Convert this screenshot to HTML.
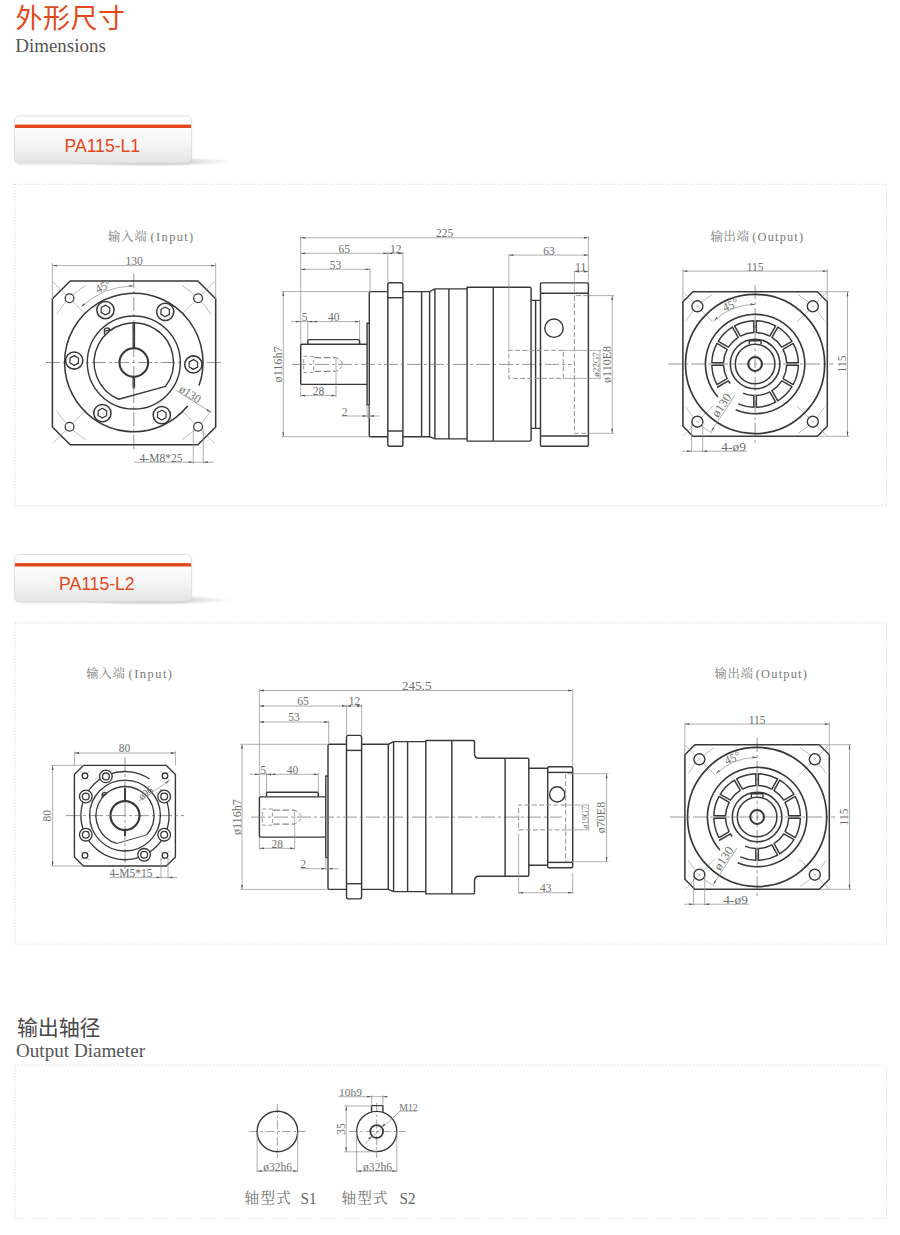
<!DOCTYPE html>
<html><head><meta charset="utf-8"><title>PA115 Dimensions</title>
<style>
html,body{margin:0;padding:0;background:#fff;}
body{width:900px;height:1235px;overflow:hidden;font-family:"Liberation Sans",sans-serif;}
svg{display:block;position:absolute;left:0;top:0;}
text{white-space:pre;}
</style></head><body>
<svg width="900" height="1235" viewBox="0 0 900 1235">
<defs>
<linearGradient id="tabg" x1="0" y1="0" x2="0" y2="1"><stop offset="0" stop-color="#ffffff"/><stop offset="0.55" stop-color="#f7f7f7"/><stop offset="1" stop-color="#e4e4e4"/></linearGradient>
<radialGradient id="shd" cx="0.5" cy="0.5" r="0.5"><stop offset="0" stop-color="#000" stop-opacity="0.28"/><stop offset="1" stop-color="#000" stop-opacity="0"/></radialGradient>
<filter id="blur1" x="-20%" y="-50%" width="140%" height="200%"><feGaussianBlur stdDeviation="1.6"/></filter>
</defs>
<text x="15.5" y="28.2" font-family="'Liberation Sans','Noto Sans CJK SC',sans-serif" font-size="27" fill="#e2491b" textLength="109.5" lengthAdjust="spacing">外形尺寸</text>
<text x="15.3" y="51.6" font-family="Liberation Serif" font-size="18" fill="#555" textLength="90.5" lengthAdjust="spacingAndGlyphs">Dimensions</text>
<text x="17" y="1035" font-family="'Liberation Sans','Noto Sans CJK SC',sans-serif" font-size="21" fill="#484848" textLength="83.5" lengthAdjust="spacing">输出轴径</text>
<text x="16" y="1057.3" font-family="Liberation Serif" font-size="18" fill="#555" textLength="129" lengthAdjust="spacingAndGlyphs">Output Diameter</text>
<ellipse cx="150" cy="161.5" rx="82" ry="5" fill="url(#shd)"/>
<rect x="15" y="117" width="176" height="47" rx="5" fill="#999" opacity="0.35" filter="url(#blur1)"/>
<rect x="14.5" y="116" width="177" height="47" rx="5" fill="url(#tabg)" stroke="#dcdcdc" stroke-width="0.8"/>
<rect x="15" y="124.6" width="176" height="3.4" fill="#e2491b"/>
<text x="102.3" y="151.6" font-family="Liberation Sans" font-size="17.6" fill="#e2491b" text-anchor="middle">PA115-L1</text>
<ellipse cx="150" cy="600" rx="82" ry="5" fill="url(#shd)"/>
<rect x="15" y="555.5" width="176" height="47" rx="5" fill="#999" opacity="0.35" filter="url(#blur1)"/>
<rect x="14.5" y="554.5" width="177" height="47" rx="5" fill="url(#tabg)" stroke="#dcdcdc" stroke-width="0.8"/>
<rect x="15" y="563.1" width="176" height="3.4" fill="#e2491b"/>
<text x="96.8" y="590.1" font-family="Liberation Sans" font-size="17.6" fill="#e2491b" text-anchor="middle">PA115-L2</text>
<rect x="15" y="184.3" width="871.5" height="321.5" rx="0" stroke="#d2d2d2" stroke-width="1" fill="none" stroke-dasharray="1 2"/>
<rect x="15" y="622.7" width="871.5" height="321.5" rx="0" stroke="#d2d2d2" stroke-width="1" fill="none" stroke-dasharray="1 2"/>
<rect x="15" y="1065.3" width="871.5" height="153" rx="0" stroke="#d2d2d2" stroke-width="1" fill="none" stroke-dasharray="1 2"/>
<text x="108" y="240.6" font-family="'Liberation Serif','Noto Serif CJK SC',serif" font-size="12.4" fill="#7c7c7c" textLength="38.6" lengthAdjust="spacing">输入端</text>
<text x="150.6" y="240.6" font-family="Liberation Serif" font-size="12.4" fill="#7a7a7a" textLength="42.6" lengthAdjust="spacing">(Input)</text>
<text x="710.4" y="240.6" font-family="'Liberation Serif','Noto Serif CJK SC',serif" font-size="12.4" fill="#7c7c7c" textLength="38.6" lengthAdjust="spacing">输出端</text>
<text x="752.3" y="240.6" font-family="Liberation Serif" font-size="12.4" fill="#7a7a7a" textLength="50.8" lengthAdjust="spacing">(Output)</text>
<text x="86.2" y="677.8" font-family="'Liberation Serif','Noto Serif CJK SC',serif" font-size="12.4" fill="#7c7c7c" textLength="38.6" lengthAdjust="spacing">输入端</text>
<text x="128.5" y="677.8" font-family="Liberation Serif" font-size="12.4" fill="#7a7a7a" textLength="43.5" lengthAdjust="spacing">(Input)</text>
<text x="714.4" y="677.8" font-family="'Liberation Serif','Noto Serif CJK SC',serif" font-size="12.4" fill="#7c7c7c" textLength="38.6" lengthAdjust="spacing">输出端</text>
<text x="755.8" y="677.8" font-family="Liberation Serif" font-size="12.4" fill="#7a7a7a" textLength="51" lengthAdjust="spacing">(Output)</text>
<line x1="46" y1="362.5" x2="222" y2="362.5" stroke="#7c7c7c" stroke-width="0.8" stroke-dasharray="14 3 3 3"/>
<line x1="133.8" y1="274" x2="133.8" y2="451" stroke="#7c7c7c" stroke-width="0.8" stroke-dasharray="14 3 3 3"/>
<path d="M70.2 281L197.9 281L215.7 298.8L215.7 427L197.9 444.8L70.2 444.8L52.4 427L52.4 298.8Z" stroke="#383838" stroke-width="1.54" fill="none" stroke-linejoin="round" />
<line x1="183.25" y1="411.95" x2="214.36" y2="443.06" stroke="#949494" stroke-width="0.62"/>
<path d="M210.92 410.69A90.93 90.93 0 0 1 181.99 439.62" stroke="#949494" stroke-width="0.62" fill="none" stroke-linejoin="round" />
<circle cx="198.1" cy="426.8" r="4.4" stroke="#383838" stroke-width="1.26" fill="#fff"/>
<line x1="84.35" y1="411.95" x2="53.24" y2="443.06" stroke="#949494" stroke-width="0.62"/>
<path d="M85.61 439.62A90.93 90.93 0 0 1 56.68 410.69" stroke="#949494" stroke-width="0.62" fill="none" stroke-linejoin="round" />
<circle cx="69.5" cy="426.8" r="4.4" stroke="#383838" stroke-width="1.26" fill="#fff"/>
<line x1="84.35" y1="313.05" x2="53.24" y2="281.94" stroke="#949494" stroke-width="0.62"/>
<path d="M56.68 314.31A90.93 90.93 0 0 1 85.61 285.38" stroke="#949494" stroke-width="0.62" fill="none" stroke-linejoin="round" />
<circle cx="69.5" cy="298.2" r="4.4" stroke="#383838" stroke-width="1.26" fill="#fff"/>
<line x1="183.25" y1="313.05" x2="214.36" y2="281.94" stroke="#949494" stroke-width="0.62"/>
<path d="M181.99 285.38A90.93 90.93 0 0 1 210.92 314.31" stroke="#949494" stroke-width="0.62" fill="none" stroke-linejoin="round" />
<circle cx="198.1" cy="298.2" r="4.4" stroke="#383838" stroke-width="1.26" fill="#fff"/>
<path d="M187.58 406.05A69.2 69.2 0 1 1 199.03 385.6" stroke="#383838" stroke-width="1.54" fill="none" stroke-linejoin="round" />
<circle cx="133.8" cy="362.5" r="46.5" stroke="#383838" stroke-width="1.4" fill="none"/>
<path d="M118.76 399.24A39.7 39.7 0 1 1 165.49 386.42Z" stroke="#383838" stroke-width="1.4" fill="none" stroke-linejoin="round" />
<path d="M104.5 334.6v-3.4a2.7 2.2 0 0 1 5.4 -1.6l-4.6 1.6" stroke="#383838" stroke-width="1.4" fill="none" stroke-linejoin="round" />
<circle cx="133.8" cy="362.5" r="14.3" stroke="#383838" stroke-width="2.1" fill="none"/>
<line x1="133.1" y1="323.2" x2="133.1" y2="348.5" stroke="#383838" stroke-width="1.26"/>
<line x1="134.5" y1="323.2" x2="134.5" y2="348.5" stroke="#383838" stroke-width="1.26"/>
<line x1="133.1" y1="376.5" x2="133.1" y2="387.5" stroke="#383838" stroke-width="1.26"/>
<line x1="134.5" y1="376.5" x2="134.5" y2="387.5" stroke="#383838" stroke-width="1.26"/>
<path d="M133.1 387.5a0.7 0.7 0 0 0 1.4 0" stroke="#383838" stroke-width="1.26" fill="none" stroke-linejoin="round" />
<circle cx="193.37" cy="364.48" r="8.6" stroke="#383838" stroke-width="1.54" fill="#fff"/>
<path d="M197.53 367.07L193.2 369.37L189.04 366.78L189.21 361.89L193.53 359.58L197.69 362.17Z" stroke="#383838" stroke-width="1.26" fill="none" stroke-linejoin="round" />
<circle cx="161.78" cy="415.12" r="8.6" stroke="#383838" stroke-width="1.54" fill="#fff"/>
<path d="M161.61 420.02L157.45 417.42L157.63 412.53L161.95 410.23L166.11 412.82L165.94 417.72Z" stroke="#383838" stroke-width="1.26" fill="none" stroke-linejoin="round" />
<circle cx="102.39" cy="413.15" r="8.6" stroke="#383838" stroke-width="1.54" fill="#fff"/>
<path d="M98.08 415.47L98.23 410.57L102.55 408.26L106.71 410.84L106.56 415.74L102.24 418.05Z" stroke="#383838" stroke-width="1.26" fill="none" stroke-linejoin="round" />
<circle cx="74.23" cy="360.52" r="8.6" stroke="#383838" stroke-width="1.54" fill="#fff"/>
<path d="M70.07 357.93L74.4 355.63L78.56 358.22L78.39 363.11L74.07 365.42L69.91 362.83Z" stroke="#383838" stroke-width="1.26" fill="none" stroke-linejoin="round" />
<circle cx="105.45" cy="310.07" r="8.6" stroke="#383838" stroke-width="1.54" fill="#fff"/>
<path d="M105.59 305.17L109.76 307.74L109.63 312.64L105.32 314.97L101.14 312.4L101.28 307.51Z" stroke="#383838" stroke-width="1.26" fill="none" stroke-linejoin="round" />
<circle cx="165.21" cy="311.85" r="8.6" stroke="#383838" stroke-width="1.54" fill="#fff"/>
<path d="M169.52 309.53L169.37 314.43L165.05 316.74L160.89 314.16L161.04 309.26L165.36 306.95Z" stroke="#383838" stroke-width="1.26" fill="none" stroke-linejoin="round" />
<line x1="52.4" y1="263" x2="52.4" y2="299" stroke="#949494" stroke-width="0.75"/>
<line x1="215.7" y1="263" x2="215.7" y2="299" stroke="#949494" stroke-width="0.75"/>
<line x1="52.4" y1="265.6" x2="215.7" y2="265.6" stroke="#949494" stroke-width="0.75"/>
<path d="M52.4 265.6L56.9 264.7L56.9 266.5Z" fill="#555"/>
<path d="M215.7 265.6L211.2 266.5L211.2 264.7Z" fill="#555"/>
<text transform="translate(134.2 264.3) translate(0 0.7) scale(0.93 1)" font-family="Liberation Serif" font-size="12.4" fill="#707070" text-anchor="middle">130</text>
<path d="M81.14 307.01A76.5 76.5 0 0 1 133.8 286" stroke="#949494" stroke-width="0.75" fill="none" stroke-linejoin="round" />
<path d="M81.14 307.01L83.65 303.17L84.94 304.43Z" fill="#555"/>
<path d="M133.8 286L129.27 286.74L129.33 284.94Z" fill="#555"/>
<text transform="translate(104.64 289.36) rotate(-26) translate(0 0.7) scale(0.93 1)" font-family="Liberation Serif" font-size="12.4" fill="#707070" text-anchor="middle">45°</text>
<line x1="176.2" y1="390.3" x2="211.2" y2="412.6" stroke="#949494" stroke-width="0.75"/>
<path d="M210.8 412.3L206.52 410.64L207.49 409.12Z" fill="#555"/>
<text transform="translate(188.2 396.9) rotate(33) translate(0 0.7) scale(0.93 1)" font-family="Liberation Serif" font-size="12.4" fill="#707070" text-anchor="middle">ø130</text>
<line x1="193.3" y1="429" x2="193.3" y2="463.4" stroke="#949494" stroke-width="0.75"/>
<line x1="203.3" y1="429" x2="203.3" y2="463.4" stroke="#949494" stroke-width="0.75"/>
<line x1="134.4" y1="462.2" x2="213.5" y2="462.2" stroke="#949494" stroke-width="0.75"/>
<path d="M193.3 462.2L188.8 463.1L188.8 461.3Z" fill="#555"/>
<path d="M203.3 462.2L207.8 461.3L207.8 463.1Z" fill="#555"/>
<text transform="translate(161 460.8) translate(0 0.7) scale(0.93 1)" font-family="Liberation Serif" font-size="12.4" fill="#707070" text-anchor="middle">4-M8*25</text>
<line x1="668.1" y1="364" x2="833.1" y2="364" stroke="#7c7c7c" stroke-width="0.8" stroke-dasharray="14 3 3 3"/>
<line x1="755.1" y1="285" x2="755.1" y2="444" stroke="#7c7c7c" stroke-width="0.8" stroke-dasharray="14 3 3 3"/>
<path d="M692.9 291.7L817.3 291.7L827.3 301.7L827.3 426.3L817.3 436.3L692.9 436.3L682.9 426.3L682.9 301.7Z" stroke="#383838" stroke-width="1.54" fill="none" stroke-linejoin="round" />
<line x1="797.24" y1="406.14" x2="826.94" y2="435.84" stroke="#949494" stroke-width="0.62"/>
<path d="M824.3 407.24A81.6 81.6 0 0 1 798.34 433.2" stroke="#949494" stroke-width="0.62" fill="none" stroke-linejoin="round" />
<circle cx="812.8" cy="421.7" r="5.5" stroke="#383838" stroke-width="1.4" fill="#fff"/>
<line x1="811.5" y1="420.4" x2="814.1" y2="423" stroke="#949494" stroke-width="0.5"/>
<line x1="811.5" y1="423" x2="814.1" y2="420.4" stroke="#949494" stroke-width="0.5"/>
<line x1="712.96" y1="406.14" x2="683.26" y2="435.84" stroke="#949494" stroke-width="0.62"/>
<path d="M711.86 433.2A81.6 81.6 0 0 1 685.9 407.24" stroke="#949494" stroke-width="0.62" fill="none" stroke-linejoin="round" />
<circle cx="697.4" cy="421.7" r="5.5" stroke="#383838" stroke-width="1.4" fill="#fff"/>
<line x1="696.1" y1="420.4" x2="698.7" y2="423" stroke="#949494" stroke-width="0.5"/>
<line x1="696.1" y1="423" x2="698.7" y2="420.4" stroke="#949494" stroke-width="0.5"/>
<line x1="712.96" y1="321.86" x2="683.26" y2="292.16" stroke="#949494" stroke-width="0.62"/>
<path d="M685.9 320.76A81.6 81.6 0 0 1 711.86 294.8" stroke="#949494" stroke-width="0.62" fill="none" stroke-linejoin="round" />
<circle cx="697.4" cy="306.3" r="5.5" stroke="#383838" stroke-width="1.4" fill="#fff"/>
<line x1="696.1" y1="305" x2="698.7" y2="307.6" stroke="#949494" stroke-width="0.5"/>
<line x1="696.1" y1="307.6" x2="698.7" y2="305" stroke="#949494" stroke-width="0.5"/>
<line x1="797.24" y1="321.86" x2="826.94" y2="292.16" stroke="#949494" stroke-width="0.62"/>
<path d="M798.34 294.8A81.6 81.6 0 0 1 824.3 320.76" stroke="#949494" stroke-width="0.62" fill="none" stroke-linejoin="round" />
<circle cx="812.8" cy="306.3" r="5.5" stroke="#383838" stroke-width="1.4" fill="#fff"/>
<line x1="811.5" y1="305" x2="814.1" y2="307.6" stroke="#949494" stroke-width="0.5"/>
<line x1="811.5" y1="307.6" x2="814.1" y2="305" stroke="#949494" stroke-width="0.5"/>
<circle cx="755.1" cy="364" r="69.6" stroke="#383838" stroke-width="1.68" fill="none"/>
<path d="M717.88 396.93A49.7 49.7 0 1 1 735.68 409.75" stroke="#383838" stroke-width="1.61" fill="none" stroke-linejoin="round" />
<path d="M786.68 365.25L798.38 365.25A43.3 43.3 0 0 1 793.21 384.56L783.07 378.71A31.6 31.6 0 0 0 786.68 365.25Z" stroke="#383838" stroke-width="1.47" fill="none" stroke-linejoin="round" />
<path d="M781.82 380.87L791.96 386.72A43.3 43.3 0 0 1 777.82 400.86L771.97 390.72A31.6 31.6 0 0 0 781.82 380.87Z" stroke="#383838" stroke-width="1.47" fill="none" stroke-linejoin="round" />
<path d="M769.81 391.97L775.66 402.11A43.3 43.3 0 0 1 756.35 407.28L756.35 395.58A31.6 31.6 0 0 0 769.81 391.97Z" stroke="#383838" stroke-width="1.47" fill="none" stroke-linejoin="round" />
<path d="M727.13 378.71L716.99 384.56A43.3 43.3 0 0 1 711.82 365.25L723.52 365.25A31.6 31.6 0 0 0 727.13 378.71Z" stroke="#383838" stroke-width="1.47" fill="none" stroke-linejoin="round" />
<path d="M723.52 362.75L711.82 362.75A43.3 43.3 0 0 1 716.99 343.44L727.13 349.29A31.6 31.6 0 0 0 723.52 362.75Z" stroke="#383838" stroke-width="1.47" fill="none" stroke-linejoin="round" />
<path d="M728.38 347.13L718.24 341.28A43.3 43.3 0 0 1 732.38 327.14L738.23 337.28A31.6 31.6 0 0 0 728.38 347.13Z" stroke="#383838" stroke-width="1.47" fill="none" stroke-linejoin="round" />
<path d="M740.39 336.03L734.54 325.89A43.3 43.3 0 0 1 753.85 320.72L753.85 332.42A31.6 31.6 0 0 0 740.39 336.03Z" stroke="#383838" stroke-width="1.47" fill="none" stroke-linejoin="round" />
<path d="M756.35 332.42L756.35 320.72A43.3 43.3 0 0 1 775.66 325.89L769.81 336.03A31.6 31.6 0 0 0 756.35 332.42Z" stroke="#383838" stroke-width="1.47" fill="none" stroke-linejoin="round" />
<path d="M771.97 337.28L777.82 327.14A43.3 43.3 0 0 1 791.96 341.28L781.82 347.13A31.6 31.6 0 0 0 771.97 337.28Z" stroke="#383838" stroke-width="1.47" fill="none" stroke-linejoin="round" />
<path d="M783.07 349.29L793.21 343.44A43.3 43.3 0 0 1 798.38 362.75L786.68 362.75A31.6 31.6 0 0 0 783.07 349.29Z" stroke="#383838" stroke-width="1.47" fill="none" stroke-linejoin="round" />
<path d="M743.01 393.19A31.6 31.6 0 0 0 753.85 395.58L753.85 407.28A43.3 43.3 0 0 1 738.18 403.86" stroke="#383838" stroke-width="1.47" fill="none" stroke-linejoin="round" />
<path d="M730.29 383.57A31.6 31.6 0 0 1 728.38 380.87L716.96 387.51" stroke="#383838" stroke-width="1.47" fill="none" stroke-linejoin="round" />
<circle cx="755.1" cy="364" r="24.8" stroke="#383838" stroke-width="1.54" fill="none"/>
<circle cx="755.1" cy="364" r="19.8" stroke="#383838" stroke-width="1.54" fill="none"/>
<path d="M749.3 344.4V340.7H761V344.4" stroke="#383838" stroke-width="1.4" fill="none" stroke-linejoin="round" />
<circle cx="755.1" cy="364" r="6.9" stroke="#383838" stroke-width="2.03" fill="none"/>
<line x1="682.9" y1="269.4" x2="682.9" y2="301.7" stroke="#949494" stroke-width="0.75"/>
<line x1="827.3" y1="269.4" x2="827.3" y2="301.7" stroke="#949494" stroke-width="0.75"/>
<line x1="682.9" y1="271.1" x2="827.3" y2="271.1" stroke="#949494" stroke-width="0.75"/>
<path d="M682.9 271.1L687.4 270.2L687.4 272Z" fill="#555"/>
<path d="M827.3 271.1L822.8 272L822.8 270.2Z" fill="#555"/>
<text transform="translate(755.1 269.8) translate(0 0.7) scale(0.93 1)" font-family="Liberation Serif" font-size="12.4" fill="#707070" text-anchor="middle">115</text>
<line x1="818.3" y1="291.7" x2="849.3" y2="291.7" stroke="#949494" stroke-width="0.75"/>
<line x1="818.3" y1="436.3" x2="849.3" y2="436.3" stroke="#949494" stroke-width="0.75"/>
<line x1="847.5" y1="291.7" x2="847.5" y2="436.3" stroke="#949494" stroke-width="0.75"/>
<path d="M847.5 291.7L848.4 296.2L846.6 296.2Z" fill="#555"/>
<path d="M847.5 436.3L846.6 431.8L848.4 431.8Z" fill="#555"/>
<text transform="translate(845.7 364) rotate(-90) translate(0 0.7) scale(0.93 1)" font-family="Liberation Serif" font-size="12.4" fill="#707070" text-anchor="middle">115</text>
<path d="M714.07 320.77A59.6 59.6 0 0 1 755.1 304.4" stroke="#949494" stroke-width="0.75" fill="none" stroke-linejoin="round" />
<path d="M714.07 320.77L716.59 316.93L717.87 318.19Z" fill="#555"/>
<path d="M755.1 304.4L750.57 305.14L750.63 303.34Z" fill="#555"/>
<text transform="translate(731.81 308.12) rotate(-24) translate(0 0.7) scale(0.93 1)" font-family="Liberation Serif" font-size="12.4" fill="#707070" text-anchor="middle">45°</text>
<line x1="711.26" y1="431.51" x2="734.95" y2="395.03" stroke="#949494" stroke-width="0.75"/>
<path d="M711.26 431.51L712.95 427.25L714.46 428.23Z" fill="#555"/>
<text transform="translate(724.43 407.25) rotate(-57) translate(0 0.7) scale(1.03 1)" font-family="Liberation Serif" font-size="12.4" fill="#707070" text-anchor="middle">ø130</text>
<line x1="691.6" y1="423" x2="691.6" y2="452.4" stroke="#949494" stroke-width="0.75"/>
<line x1="702.7" y1="423" x2="702.7" y2="452.4" stroke="#949494" stroke-width="0.75"/>
<line x1="682.2" y1="451.2" x2="747.1" y2="451.2" stroke="#949494" stroke-width="0.75"/>
<path d="M691.6 451.2L687.1 452.1L687.1 450.3Z" fill="#555"/>
<path d="M702.7 451.2L707.2 450.3L707.2 452.1Z" fill="#555"/>
<text transform="translate(733.6 449.8) translate(0 0.7)" font-family="Liberation Serif" font-size="12.4" fill="#707070" text-anchor="middle" textLength="24.5" lengthAdjust="spacingAndGlyphs">4-ø9</text>
<line x1="670.1" y1="817" x2="835.1" y2="817" stroke="#7c7c7c" stroke-width="0.8" stroke-dasharray="14 3 3 3"/>
<line x1="757.1" y1="738" x2="757.1" y2="897" stroke="#7c7c7c" stroke-width="0.8" stroke-dasharray="14 3 3 3"/>
<path d="M694.9 744.7L819.3 744.7L829.3 754.7L829.3 879.3L819.3 889.3L694.9 889.3L684.9 879.3L684.9 754.7Z" stroke="#383838" stroke-width="1.54" fill="none" stroke-linejoin="round" />
<line x1="799.24" y1="859.14" x2="828.94" y2="888.84" stroke="#949494" stroke-width="0.62"/>
<path d="M826.3 860.24A81.6 81.6 0 0 1 800.34 886.2" stroke="#949494" stroke-width="0.62" fill="none" stroke-linejoin="round" />
<circle cx="814.8" cy="874.7" r="5.5" stroke="#383838" stroke-width="1.4" fill="#fff"/>
<line x1="813.5" y1="873.4" x2="816.1" y2="876" stroke="#949494" stroke-width="0.5"/>
<line x1="813.5" y1="876" x2="816.1" y2="873.4" stroke="#949494" stroke-width="0.5"/>
<line x1="714.96" y1="859.14" x2="685.26" y2="888.84" stroke="#949494" stroke-width="0.62"/>
<path d="M713.86 886.2A81.6 81.6 0 0 1 687.9 860.24" stroke="#949494" stroke-width="0.62" fill="none" stroke-linejoin="round" />
<circle cx="699.4" cy="874.7" r="5.5" stroke="#383838" stroke-width="1.4" fill="#fff"/>
<line x1="698.1" y1="873.4" x2="700.7" y2="876" stroke="#949494" stroke-width="0.5"/>
<line x1="698.1" y1="876" x2="700.7" y2="873.4" stroke="#949494" stroke-width="0.5"/>
<line x1="714.96" y1="774.86" x2="685.26" y2="745.16" stroke="#949494" stroke-width="0.62"/>
<path d="M687.9 773.76A81.6 81.6 0 0 1 713.86 747.8" stroke="#949494" stroke-width="0.62" fill="none" stroke-linejoin="round" />
<circle cx="699.4" cy="759.3" r="5.5" stroke="#383838" stroke-width="1.4" fill="#fff"/>
<line x1="698.1" y1="758" x2="700.7" y2="760.6" stroke="#949494" stroke-width="0.5"/>
<line x1="698.1" y1="760.6" x2="700.7" y2="758" stroke="#949494" stroke-width="0.5"/>
<line x1="799.24" y1="774.86" x2="828.94" y2="745.16" stroke="#949494" stroke-width="0.62"/>
<path d="M800.34 747.8A81.6 81.6 0 0 1 826.3 773.76" stroke="#949494" stroke-width="0.62" fill="none" stroke-linejoin="round" />
<circle cx="814.8" cy="759.3" r="5.5" stroke="#383838" stroke-width="1.4" fill="#fff"/>
<line x1="813.5" y1="758" x2="816.1" y2="760.6" stroke="#949494" stroke-width="0.5"/>
<line x1="813.5" y1="760.6" x2="816.1" y2="758" stroke="#949494" stroke-width="0.5"/>
<circle cx="757.1" cy="817" r="69.6" stroke="#383838" stroke-width="1.68" fill="none"/>
<path d="M719.88 849.93A49.7 49.7 0 1 1 737.68 862.75" stroke="#383838" stroke-width="1.61" fill="none" stroke-linejoin="round" />
<path d="M788.68 818.25L800.38 818.25A43.3 43.3 0 0 1 795.21 837.56L785.07 831.71A31.6 31.6 0 0 0 788.68 818.25Z" stroke="#383838" stroke-width="1.47" fill="none" stroke-linejoin="round" />
<path d="M783.82 833.87L793.96 839.72A43.3 43.3 0 0 1 779.82 853.86L773.97 843.72A31.6 31.6 0 0 0 783.82 833.87Z" stroke="#383838" stroke-width="1.47" fill="none" stroke-linejoin="round" />
<path d="M771.81 844.97L777.66 855.11A43.3 43.3 0 0 1 758.35 860.28L758.35 848.58A31.6 31.6 0 0 0 771.81 844.97Z" stroke="#383838" stroke-width="1.47" fill="none" stroke-linejoin="round" />
<path d="M729.13 831.71L718.99 837.56A43.3 43.3 0 0 1 713.82 818.25L725.52 818.25A31.6 31.6 0 0 0 729.13 831.71Z" stroke="#383838" stroke-width="1.47" fill="none" stroke-linejoin="round" />
<path d="M725.52 815.75L713.82 815.75A43.3 43.3 0 0 1 718.99 796.44L729.13 802.29A31.6 31.6 0 0 0 725.52 815.75Z" stroke="#383838" stroke-width="1.47" fill="none" stroke-linejoin="round" />
<path d="M730.38 800.13L720.24 794.28A43.3 43.3 0 0 1 734.38 780.14L740.23 790.28A31.6 31.6 0 0 0 730.38 800.13Z" stroke="#383838" stroke-width="1.47" fill="none" stroke-linejoin="round" />
<path d="M742.39 789.03L736.54 778.89A43.3 43.3 0 0 1 755.85 773.72L755.85 785.42A31.6 31.6 0 0 0 742.39 789.03Z" stroke="#383838" stroke-width="1.47" fill="none" stroke-linejoin="round" />
<path d="M758.35 785.42L758.35 773.72A43.3 43.3 0 0 1 777.66 778.89L771.81 789.03A31.6 31.6 0 0 0 758.35 785.42Z" stroke="#383838" stroke-width="1.47" fill="none" stroke-linejoin="round" />
<path d="M773.97 790.28L779.82 780.14A43.3 43.3 0 0 1 793.96 794.28L783.82 800.13A31.6 31.6 0 0 0 773.97 790.28Z" stroke="#383838" stroke-width="1.47" fill="none" stroke-linejoin="round" />
<path d="M785.07 802.29L795.21 796.44A43.3 43.3 0 0 1 800.38 815.75L788.68 815.75A31.6 31.6 0 0 0 785.07 802.29Z" stroke="#383838" stroke-width="1.47" fill="none" stroke-linejoin="round" />
<path d="M745.01 846.19A31.6 31.6 0 0 0 755.85 848.58L755.85 860.28A43.3 43.3 0 0 1 740.18 856.86" stroke="#383838" stroke-width="1.47" fill="none" stroke-linejoin="round" />
<path d="M732.29 836.57A31.6 31.6 0 0 1 730.38 833.87L718.96 840.51" stroke="#383838" stroke-width="1.47" fill="none" stroke-linejoin="round" />
<circle cx="757.1" cy="817" r="24.8" stroke="#383838" stroke-width="1.54" fill="none"/>
<circle cx="757.1" cy="817" r="19.8" stroke="#383838" stroke-width="1.54" fill="none"/>
<path d="M751.3 797.4V793.7H763V797.4" stroke="#383838" stroke-width="1.4" fill="none" stroke-linejoin="round" />
<circle cx="757.1" cy="817" r="6.9" stroke="#383838" stroke-width="2.03" fill="none"/>
<line x1="684.9" y1="722.4" x2="684.9" y2="754.7" stroke="#949494" stroke-width="0.75"/>
<line x1="829.3" y1="722.4" x2="829.3" y2="754.7" stroke="#949494" stroke-width="0.75"/>
<line x1="684.9" y1="724.1" x2="829.3" y2="724.1" stroke="#949494" stroke-width="0.75"/>
<path d="M684.9 724.1L689.4 723.2L689.4 725Z" fill="#555"/>
<path d="M829.3 724.1L824.8 725L824.8 723.2Z" fill="#555"/>
<text transform="translate(757.1 722.8) translate(0 0.7) scale(0.93 1)" font-family="Liberation Serif" font-size="12.4" fill="#707070" text-anchor="middle">115</text>
<line x1="820.3" y1="744.7" x2="851.3" y2="744.7" stroke="#949494" stroke-width="0.75"/>
<line x1="820.3" y1="889.3" x2="851.3" y2="889.3" stroke="#949494" stroke-width="0.75"/>
<line x1="849.5" y1="744.7" x2="849.5" y2="889.3" stroke="#949494" stroke-width="0.75"/>
<path d="M849.5 744.7L850.4 749.2L848.6 749.2Z" fill="#555"/>
<path d="M849.5 889.3L848.6 884.8L850.4 884.8Z" fill="#555"/>
<text transform="translate(847.7 817) rotate(-90) translate(0 0.7) scale(0.93 1)" font-family="Liberation Serif" font-size="12.4" fill="#707070" text-anchor="middle">115</text>
<path d="M716.07 773.77A59.6 59.6 0 0 1 757.1 757.4" stroke="#949494" stroke-width="0.75" fill="none" stroke-linejoin="round" />
<path d="M716.07 773.77L718.59 769.93L719.87 771.19Z" fill="#555"/>
<path d="M757.1 757.4L752.57 758.14L752.63 756.34Z" fill="#555"/>
<text transform="translate(733.81 761.12) rotate(-24) translate(0 0.7) scale(0.93 1)" font-family="Liberation Serif" font-size="12.4" fill="#707070" text-anchor="middle">45°</text>
<line x1="713.26" y1="884.51" x2="736.95" y2="848.03" stroke="#949494" stroke-width="0.75"/>
<path d="M713.26 884.51L714.95 880.25L716.46 881.23Z" fill="#555"/>
<text transform="translate(726.43 860.25) rotate(-57) translate(0 0.7) scale(1.03 1)" font-family="Liberation Serif" font-size="12.4" fill="#707070" text-anchor="middle">ø130</text>
<line x1="693.6" y1="876" x2="693.6" y2="905.4" stroke="#949494" stroke-width="0.75"/>
<line x1="704.7" y1="876" x2="704.7" y2="905.4" stroke="#949494" stroke-width="0.75"/>
<line x1="684.2" y1="904.2" x2="749.1" y2="904.2" stroke="#949494" stroke-width="0.75"/>
<path d="M693.6 904.2L689.1 905.1L689.1 903.3Z" fill="#555"/>
<path d="M704.7 904.2L709.2 903.3L709.2 905.1Z" fill="#555"/>
<text transform="translate(735.6 902.8) translate(0 0.7)" font-family="Liberation Serif" font-size="12.4" fill="#707070" text-anchor="middle" textLength="24.5" lengthAdjust="spacingAndGlyphs">4-ø9</text>
<path d="M367.1 344.2H301.9q-1.2 0 -1.2 1.2V383.2q0 1.2 1.2 1.2H367.1" stroke="#383838" stroke-width="1.43" fill="none" stroke-linejoin="round" />
<path d="M307.8 344v-3.4q0 -1 1 -1H358.6q1 0 1 1v3.4" stroke="#383838" stroke-width="1.43" fill="none" stroke-linejoin="round" />
<path d="M369.3 323.3H367.1V404.9H369.3" stroke="#383838" stroke-width="1.4" fill="none" stroke-linejoin="round" />
<path d="M313.7 356.3H303.7V372.5H313.7Z" stroke="#858585" stroke-width="0.85" fill="none" stroke-linejoin="round" stroke-dasharray="4 2.4" />
<path d="M314.5 357.5H335.3M314.5 371.3H335.3" stroke="#858585" stroke-width="1.25" fill="none" stroke-linejoin="round" stroke-dasharray="6.5 2.8" />
<path d="M335.3 357.5Q340.2 358.2 342.7 364.4Q340.2 370.6 335.3 371.3" stroke="#858585" stroke-width="0.85" fill="none" stroke-linejoin="round" stroke-dasharray="4 2" />
<path d="M387.8 291.6H370.8q-1.5 0 -1.5 1.5V435.2q0 1.5 1.5 1.5H387.8" stroke="#383838" stroke-width="1.43" fill="none" stroke-linejoin="round" />
<rect x="387.8" y="282.7" width="15.1" height="163.5" rx="1.8" stroke="#383838" stroke-width="1.43" fill="none"/>
<line x1="387.8" y1="297.7" x2="402.9" y2="297.7" stroke="#383838" stroke-width="1.43"/>
<line x1="387.8" y1="431" x2="402.9" y2="431" stroke="#383838" stroke-width="1.43"/>
<path d="M402.9 291.6H429.6L434.9 288.9" stroke="#383838" stroke-width="1.43" fill="none" stroke-linejoin="round" />
<path d="M402.9 436.7H429.6L434.9 438.9" stroke="#383838" stroke-width="1.43" fill="none" stroke-linejoin="round" />
<line x1="421.6" y1="291.6" x2="421.6" y2="436.7" stroke="#383838" stroke-width="1.43"/>
<line x1="429.6" y1="291.6" x2="429.6" y2="436.7" stroke="#383838" stroke-width="1.43"/>
<line x1="434.9" y1="288.9" x2="434.9" y2="438.9" stroke="#383838" stroke-width="1.43"/>
<line x1="448.9" y1="288.9" x2="448.9" y2="438.9" stroke="#383838" stroke-width="1.43"/>
<path d="M434.9 288.9H467.1" stroke="#383838" stroke-width="1.43" fill="none" stroke-linejoin="round" />
<path d="M434.9 438.9H467.1" stroke="#383838" stroke-width="1.43" fill="none" stroke-linejoin="round" />
<line x1="292" y1="364.4" x2="572" y2="364.4" stroke="#7c7c7c" stroke-width="0.8" stroke-dasharray="14 3 3 3"/>
<path d="M467.1 287.3H529.6q1.5 0 1.5 1.5V439.6q0 1.5 -1.5 1.5H467.1Z" stroke="#383838" stroke-width="1.43" fill="none" stroke-linejoin="round" />
<line x1="493.3" y1="287.3" x2="493.3" y2="441.1" stroke="#383838" stroke-width="1.43"/>
<path d="M531.1 300.4H540.5M531.1 428.4H540.5" stroke="#383838" stroke-width="1.43" fill="none" stroke-linejoin="round" />
<line x1="535.6" y1="300.4" x2="535.6" y2="428.4" stroke="#383838" stroke-width="1.43"/>
<rect x="540.5" y="282.9" width="47.9" height="163.3" rx="1.2" stroke="#383838" stroke-width="1.43" fill="none"/>
<line x1="540.5" y1="293.3" x2="588.4" y2="293.3" stroke="#383838" stroke-width="1.43"/>
<line x1="540.5" y1="436" x2="588.4" y2="436" stroke="#383838" stroke-width="1.43"/>
<circle cx="554" cy="328.2" r="9.2" stroke="#383838" stroke-width="1.43" fill="none"/>
<path d="M588.4 295.6H574.4V433.3H588.4" stroke="#949494" stroke-width="1.0" fill="none" stroke-linejoin="round" stroke-dasharray="5 2.2" />
<path d="M563.3 350.4H508.9V378.4H563.3Z" stroke="#949494" stroke-width="1.0" fill="none" stroke-linejoin="round" stroke-dasharray="5 2.2" />
<line x1="281.5" y1="291.6" x2="369" y2="291.6" stroke="#949494" stroke-width="0.75"/>
<line x1="281.5" y1="436.7" x2="369" y2="436.7" stroke="#949494" stroke-width="0.75"/>
<line x1="283.3" y1="291.6" x2="283.3" y2="436.7" stroke="#949494" stroke-width="0.75"/>
<path d="M283.3 291.6L284.2 296.1L282.4 296.1Z" fill="#555"/>
<path d="M283.3 436.7L282.4 432.2L284.2 432.2Z" fill="#555"/>
<text transform="translate(281.5 364.4) rotate(-90) translate(0 0.7)" font-family="Liberation Serif" font-size="12.4" fill="#707070" text-anchor="middle" textLength="36" lengthAdjust="spacingAndGlyphs">ø116h7</text>
<line x1="300.7" y1="236.4" x2="300.7" y2="344" stroke="#949494" stroke-width="0.75"/>
<line x1="300.7" y1="384.6" x2="300.7" y2="397" stroke="#949494" stroke-width="0.75"/>
<line x1="387.8" y1="252" x2="387.8" y2="282.7" stroke="#949494" stroke-width="0.75"/>
<line x1="402.9" y1="252" x2="402.9" y2="282.7" stroke="#949494" stroke-width="0.75"/>
<line x1="370" y1="268" x2="370" y2="291.6" stroke="#949494" stroke-width="0.75"/>
<line x1="588.4" y1="236.4" x2="588.4" y2="282.9" stroke="#949494" stroke-width="0.75"/>
<line x1="300.7" y1="237.8" x2="588.4" y2="237.8" stroke="#949494" stroke-width="0.75"/>
<path d="M300.7 237.8L305.2 236.9L305.2 238.7Z" fill="#555"/>
<path d="M588.4 237.8L583.9 238.7L583.9 236.9Z" fill="#555"/>
<text transform="translate(444.6 236.5) translate(0 0.7) scale(0.93 1)" font-family="Liberation Serif" font-size="12.4" fill="#707070" text-anchor="middle">225</text>
<line x1="300.7" y1="253.3" x2="387.8" y2="253.3" stroke="#949494" stroke-width="0.75"/>
<path d="M300.7 253.3L305.2 252.4L305.2 254.2Z" fill="#555"/>
<path d="M387.8 253.3L383.3 254.2L383.3 252.4Z" fill="#555"/>
<text transform="translate(344.2 252) translate(0 0.7) scale(0.93 1)" font-family="Liberation Serif" font-size="12.4" fill="#707070" text-anchor="middle">65</text>
<line x1="387.8" y1="253.3" x2="403.6" y2="253.3" stroke="#949494" stroke-width="0.75"/>
<path d="M387.8 253.3L392.3 252.4L392.3 254.2Z" fill="#555"/>
<path d="M402.9 253.3L398.4 254.2L398.4 252.4Z" fill="#555"/>
<text transform="translate(395.8 252) translate(0 0.7) scale(0.93 1)" font-family="Liberation Serif" font-size="12.4" fill="#707070" text-anchor="middle">12</text>
<line x1="300.7" y1="269.3" x2="370" y2="269.3" stroke="#949494" stroke-width="0.75"/>
<path d="M300.7 269.3L305.2 268.4L305.2 270.2Z" fill="#555"/>
<path d="M370 269.3L365.5 270.2L365.5 268.4Z" fill="#555"/>
<text transform="translate(335.4 268) translate(0 0.7) scale(0.93 1)" font-family="Liberation Serif" font-size="12.4" fill="#707070" text-anchor="middle">53</text>
<line x1="307.8" y1="320" x2="307.8" y2="339.6" stroke="#949494" stroke-width="0.75"/>
<line x1="359.6" y1="320" x2="359.6" y2="339.6" stroke="#949494" stroke-width="0.75"/>
<line x1="291" y1="321.6" x2="359.6" y2="321.6" stroke="#949494" stroke-width="0.75"/>
<path d="M300.7 321.6L296.2 322.5L296.2 320.7Z" fill="#555"/>
<path d="M307.8 321.6L312.3 320.7L312.3 322.5Z" fill="#555"/>
<path d="M359.6 321.6L355.1 322.5L355.1 320.7Z" fill="#555"/>
<path d="M312.3 321.6L316.8 320.7L316.8 322.5Z" fill="#555"/>
<text transform="translate(304.5 320.4) translate(0 0.7) scale(0.93 1)" font-family="Liberation Serif" font-size="12.4" fill="#707070" text-anchor="middle">5</text>
<text transform="translate(333.8 320.4) translate(0 0.7) scale(0.93 1)" font-family="Liberation Serif" font-size="12.4" fill="#707070" text-anchor="middle">40</text>
<line x1="336" y1="357.5" x2="336" y2="397" stroke="#949494" stroke-width="0.75"/>
<line x1="300.7" y1="395.6" x2="336" y2="395.6" stroke="#949494" stroke-width="0.75"/>
<path d="M300.7 395.6L305.2 394.7L305.2 396.5Z" fill="#555"/>
<path d="M336 395.6L331.5 396.5L331.5 394.7Z" fill="#555"/>
<text transform="translate(318.6 394.3) translate(0 0.7) scale(0.93 1)" font-family="Liberation Serif" font-size="12.4" fill="#707070" text-anchor="middle">28</text>
<line x1="341.6" y1="416" x2="380" y2="416" stroke="#949494" stroke-width="0.75"/>
<path d="M367.1 416L362.6 416.9L362.6 415.1Z" fill="#555"/>
<path d="M369.3 416L373.8 415.1L373.8 416.9Z" fill="#555"/>
<line x1="367.1" y1="404.9" x2="367.1" y2="418" stroke="#949494" stroke-width="0.75"/>
<line x1="369.3" y1="404.9" x2="369.3" y2="418" stroke="#949494" stroke-width="0.75"/>
<text transform="translate(344.6 414.8) translate(0 0.7) scale(0.93 1)" font-family="Liberation Serif" font-size="12.4" fill="#707070" text-anchor="middle">2</text>
<line x1="508.9" y1="254" x2="508.9" y2="350.4" stroke="#949494" stroke-width="0.75"/>
<line x1="508.9" y1="255.1" x2="588.4" y2="255.1" stroke="#949494" stroke-width="0.75"/>
<path d="M508.9 255.1L513.4 254.2L513.4 256Z" fill="#555"/>
<path d="M588.4 255.1L583.9 256L583.9 254.2Z" fill="#555"/>
<text transform="translate(549 253.8) translate(0 0.7) scale(0.93 1)" font-family="Liberation Serif" font-size="12.4" fill="#707070" text-anchor="middle">63</text>
<line x1="574.4" y1="270.3" x2="574.4" y2="295.6" stroke="#949494" stroke-width="0.75"/>
<line x1="574.4" y1="271.6" x2="588.4" y2="271.6" stroke="#949494" stroke-width="0.75"/>
<path d="M574.4 271.6L578.9 270.7L578.9 272.5Z" fill="#555"/>
<path d="M588.4 271.6L583.9 272.5L583.9 270.7Z" fill="#555"/>
<text transform="translate(580.6 270.4) translate(0 0.7) scale(0.93 1)" font-family="Liberation Serif" font-size="12.4" fill="#707070" text-anchor="middle">11</text>
<line x1="588.4" y1="295.6" x2="614" y2="295.6" stroke="#949494" stroke-width="0.75"/>
<line x1="588.4" y1="433.3" x2="614" y2="433.3" stroke="#949494" stroke-width="0.75"/>
<line x1="612.2" y1="295.6" x2="612.2" y2="433.3" stroke="#949494" stroke-width="0.75"/>
<path d="M612.2 295.6L613.1 300.1L611.3 300.1Z" fill="#555"/>
<path d="M612.2 433.3L611.3 428.8L613.1 428.8Z" fill="#555"/>
<text transform="translate(610.6 364.4) rotate(-90) translate(0 0.7)" font-family="Liberation Serif" font-size="12.4" fill="#707070" text-anchor="middle" textLength="37" lengthAdjust="spacingAndGlyphs">ø110E8</text>
<line x1="563.3" y1="350.4" x2="601" y2="350.4" stroke="#949494" stroke-width="0.75"/>
<line x1="563.3" y1="378.4" x2="601" y2="378.4" stroke="#949494" stroke-width="0.75"/>
<line x1="600" y1="350.4" x2="600" y2="378.4" stroke="#949494" stroke-width="0.75"/>
<text transform="translate(598.6 364.4) rotate(-90) translate(0 0.7)" font-family="Liberation Serif" font-size="9" fill="#707070" text-anchor="middle" textLength="24.5" lengthAdjust="spacingAndGlyphs">ø22G7</text>
<path d="M325.8 796.9H260.6q-1.2 0 -1.2 1.2V835.9q0 1.2 1.2 1.2H325.8" stroke="#383838" stroke-width="1.43" fill="none" stroke-linejoin="round" />
<path d="M266.5 796.7v-3.4q0 -1 1 -1H317.3q1 0 1 1v3.4" stroke="#383838" stroke-width="1.43" fill="none" stroke-linejoin="round" />
<path d="M328 776H325.8V857.6H328" stroke="#383838" stroke-width="1.4" fill="none" stroke-linejoin="round" />
<path d="M272.4 809H262.4V825.2H272.4Z" stroke="#858585" stroke-width="0.85" fill="none" stroke-linejoin="round" stroke-dasharray="4 2.4" />
<path d="M273.2 810.2H294M273.2 824H294" stroke="#858585" stroke-width="1.25" fill="none" stroke-linejoin="round" stroke-dasharray="6.5 2.8" />
<path d="M294 810.2Q298.9 810.9 301.4 817.1Q298.9 823.3 294 824" stroke="#858585" stroke-width="0.85" fill="none" stroke-linejoin="round" stroke-dasharray="4 2" />
<path d="M346.5 744.3H329.5q-1.5 0 -1.5 1.5V887.9q0 1.5 1.5 1.5H346.5" stroke="#383838" stroke-width="1.43" fill="none" stroke-linejoin="round" />
<rect x="346.5" y="735.4" width="15.1" height="163.5" rx="1.8" stroke="#383838" stroke-width="1.43" fill="none"/>
<line x1="346.5" y1="750.4" x2="361.6" y2="750.4" stroke="#383838" stroke-width="1.43"/>
<line x1="346.5" y1="883.7" x2="361.6" y2="883.7" stroke="#383838" stroke-width="1.43"/>
<path d="M361.6 744.3H388.3L393.6 741.6" stroke="#383838" stroke-width="1.43" fill="none" stroke-linejoin="round" />
<path d="M361.6 889.4H388.3L393.6 891.6" stroke="#383838" stroke-width="1.43" fill="none" stroke-linejoin="round" />
<line x1="388.3" y1="744.3" x2="388.3" y2="889.4" stroke="#383838" stroke-width="1.43"/>
<line x1="393.6" y1="741.6" x2="393.6" y2="891.6" stroke="#383838" stroke-width="1.43"/>
<line x1="407.6" y1="741.6" x2="407.6" y2="891.6" stroke="#383838" stroke-width="1.43"/>
<path d="M393.6 741.6H425.8" stroke="#383838" stroke-width="1.43" fill="none" stroke-linejoin="round" />
<path d="M393.6 891.6H425.8" stroke="#383838" stroke-width="1.43" fill="none" stroke-linejoin="round" />
<line x1="251" y1="817.1" x2="562" y2="817.1" stroke="#7c7c7c" stroke-width="0.8" stroke-dasharray="14 3 3 3"/>
<path d="M425.8 740.5H473.3q1.2 0 1.2 1.2V753.8q0 4.5 4.5 4.5H527.6q1.2 0 1.2 1.2V875.1q0 1.2 -1.2 1.2H479q-4.5 0 -4.5 4.5V892.7q0 1.2 -1.2 1.2H425.8Z" stroke="#383838" stroke-width="1.43" fill="none" stroke-linejoin="round" />
<line x1="451.8" y1="740.5" x2="451.8" y2="893.9" stroke="#383838" stroke-width="1.43"/>
<line x1="505.1" y1="758.3" x2="505.1" y2="876.3" stroke="#383838" stroke-width="1.43"/>
<path d="M528.8 768.3H547.9M528.8 865.3H547.9" stroke="#383838" stroke-width="1.43" fill="none" stroke-linejoin="round" />
<rect x="547.7" y="766.8" width="25" height="101" rx="1.2" stroke="#383838" stroke-width="1.43" fill="none"/>
<line x1="547.7" y1="772.4" x2="572.7" y2="772.4" stroke="#383838" stroke-width="1.43"/>
<line x1="547.7" y1="862.4" x2="572.7" y2="862.4" stroke="#383838" stroke-width="1.43"/>
<circle cx="557.2" cy="794.4" r="7.6" stroke="#383838" stroke-width="1.43" fill="none"/>
<path d="M572.7 773.7H565.7V861.7H572.7" stroke="#949494" stroke-width="1.0" fill="none" stroke-linejoin="round" stroke-dasharray="5 2.2" />
<path d="M565.7 805H518.6V829.9H565.7" stroke="#949494" stroke-width="1.0" fill="none" stroke-linejoin="round" stroke-dasharray="5 2.2" />
<line x1="240.2" y1="744.3" x2="327.7" y2="744.3" stroke="#949494" stroke-width="0.75"/>
<line x1="240.2" y1="889.4" x2="327.7" y2="889.4" stroke="#949494" stroke-width="0.75"/>
<line x1="242" y1="744.3" x2="242" y2="889.4" stroke="#949494" stroke-width="0.75"/>
<path d="M242 744.3L242.9 748.8L241.1 748.8Z" fill="#555"/>
<path d="M242 889.4L241.1 884.9L242.9 884.9Z" fill="#555"/>
<text transform="translate(240.2 817.1) rotate(-90) translate(0 0.7)" font-family="Liberation Serif" font-size="12.4" fill="#707070" text-anchor="middle" textLength="36" lengthAdjust="spacingAndGlyphs">ø116h7</text>
<line x1="259.4" y1="689.1" x2="259.4" y2="796.7" stroke="#949494" stroke-width="0.75"/>
<line x1="259.4" y1="837.3" x2="259.4" y2="849.7" stroke="#949494" stroke-width="0.75"/>
<line x1="346.5" y1="704.7" x2="346.5" y2="735.4" stroke="#949494" stroke-width="0.75"/>
<line x1="361.6" y1="704.7" x2="361.6" y2="735.4" stroke="#949494" stroke-width="0.75"/>
<line x1="328.7" y1="720.7" x2="328.7" y2="744.3" stroke="#949494" stroke-width="0.75"/>
<line x1="572.7" y1="689.1" x2="572.7" y2="767.1" stroke="#949494" stroke-width="0.75"/>
<line x1="259.4" y1="690.5" x2="572.7" y2="690.5" stroke="#949494" stroke-width="0.75"/>
<path d="M259.4 690.5L263.9 689.6L263.9 691.4Z" fill="#555"/>
<path d="M572.7 690.5L568.2 691.4L568.2 689.6Z" fill="#555"/>
<text transform="translate(416.7 689.2) translate(0 0.7)" font-family="Liberation Serif" font-size="12.4" fill="#707070" text-anchor="middle" textLength="29.5" lengthAdjust="spacingAndGlyphs">245.5</text>
<line x1="259.4" y1="706" x2="346.5" y2="706" stroke="#949494" stroke-width="0.75"/>
<path d="M259.4 706L263.9 705.1L263.9 706.9Z" fill="#555"/>
<path d="M346.5 706L342 706.9L342 705.1Z" fill="#555"/>
<text transform="translate(302.9 704.7) translate(0 0.7) scale(0.93 1)" font-family="Liberation Serif" font-size="12.4" fill="#707070" text-anchor="middle">65</text>
<line x1="346.5" y1="706" x2="362.3" y2="706" stroke="#949494" stroke-width="0.75"/>
<path d="M346.5 706L351 705.1L351 706.9Z" fill="#555"/>
<path d="M361.6 706L357.1 706.9L357.1 705.1Z" fill="#555"/>
<text transform="translate(354.5 704.7) translate(0 0.7) scale(0.93 1)" font-family="Liberation Serif" font-size="12.4" fill="#707070" text-anchor="middle">12</text>
<line x1="259.4" y1="722" x2="328.7" y2="722" stroke="#949494" stroke-width="0.75"/>
<path d="M259.4 722L263.9 721.1L263.9 722.9Z" fill="#555"/>
<path d="M328.7 722L324.2 722.9L324.2 721.1Z" fill="#555"/>
<text transform="translate(294.1 720.7) translate(0 0.7) scale(0.93 1)" font-family="Liberation Serif" font-size="12.4" fill="#707070" text-anchor="middle">53</text>
<line x1="266.5" y1="772.7" x2="266.5" y2="792.3" stroke="#949494" stroke-width="0.75"/>
<line x1="318.3" y1="772.7" x2="318.3" y2="792.3" stroke="#949494" stroke-width="0.75"/>
<line x1="249.7" y1="774.3" x2="318.3" y2="774.3" stroke="#949494" stroke-width="0.75"/>
<path d="M259.4 774.3L254.9 775.2L254.9 773.4Z" fill="#555"/>
<path d="M266.5 774.3L271 773.4L271 775.2Z" fill="#555"/>
<path d="M318.3 774.3L313.8 775.2L313.8 773.4Z" fill="#555"/>
<path d="M271 774.3L275.5 773.4L275.5 775.2Z" fill="#555"/>
<text transform="translate(263.2 773.1) translate(0 0.7) scale(0.93 1)" font-family="Liberation Serif" font-size="12.4" fill="#707070" text-anchor="middle">5</text>
<text transform="translate(292.5 773.1) translate(0 0.7) scale(0.93 1)" font-family="Liberation Serif" font-size="12.4" fill="#707070" text-anchor="middle">40</text>
<line x1="294.7" y1="810.2" x2="294.7" y2="849.7" stroke="#949494" stroke-width="0.75"/>
<line x1="259.4" y1="848.3" x2="294.7" y2="848.3" stroke="#949494" stroke-width="0.75"/>
<path d="M259.4 848.3L263.9 847.4L263.9 849.2Z" fill="#555"/>
<path d="M294.7 848.3L290.2 849.2L290.2 847.4Z" fill="#555"/>
<text transform="translate(277.3 847) translate(0 0.7) scale(0.93 1)" font-family="Liberation Serif" font-size="12.4" fill="#707070" text-anchor="middle">28</text>
<line x1="300.3" y1="868.7" x2="338.7" y2="868.7" stroke="#949494" stroke-width="0.75"/>
<path d="M325.8 868.7L321.3 869.6L321.3 867.8Z" fill="#555"/>
<path d="M328 868.7L332.5 867.8L332.5 869.6Z" fill="#555"/>
<line x1="325.8" y1="857.6" x2="325.8" y2="870.7" stroke="#949494" stroke-width="0.75"/>
<line x1="328" y1="857.6" x2="328" y2="870.7" stroke="#949494" stroke-width="0.75"/>
<text transform="translate(303.3 867.5) translate(0 0.7) scale(0.93 1)" font-family="Liberation Serif" font-size="12.4" fill="#707070" text-anchor="middle">2</text>
<line x1="518.6" y1="833.6" x2="518.6" y2="894.2" stroke="#949494" stroke-width="0.75"/>
<line x1="572.7" y1="872.7" x2="572.7" y2="894.2" stroke="#949494" stroke-width="0.75"/>
<line x1="518.6" y1="892.7" x2="572.7" y2="892.7" stroke="#949494" stroke-width="0.75"/>
<path d="M518.6 892.7L523.1 891.8L523.1 893.6Z" fill="#555"/>
<path d="M572.7 892.7L568.2 893.6L568.2 891.8Z" fill="#555"/>
<text transform="translate(545.8 891.4) translate(0 0.7) scale(0.93 1)" font-family="Liberation Serif" font-size="12.4" fill="#707070" text-anchor="middle">43</text>
<line x1="572.7" y1="773.7" x2="608.5" y2="773.7" stroke="#949494" stroke-width="0.75"/>
<line x1="572.7" y1="861.7" x2="608.5" y2="861.7" stroke="#949494" stroke-width="0.75"/>
<line x1="606.6" y1="773.7" x2="606.6" y2="861.7" stroke="#949494" stroke-width="0.75"/>
<path d="M606.6 773.7L607.5 778.2L605.7 778.2Z" fill="#555"/>
<path d="M606.6 861.7L605.7 857.2L607.5 857.2Z" fill="#555"/>
<text transform="translate(604.2 817.5) rotate(-90) translate(0 0.7)" font-family="Liberation Serif" font-size="12.4" fill="#707070" text-anchor="middle" textLength="31.5" lengthAdjust="spacingAndGlyphs">ø70E8</text>
<line x1="565.7" y1="805" x2="589.5" y2="805" stroke="#949494" stroke-width="0.75"/>
<line x1="565.7" y1="829.9" x2="589.5" y2="829.9" stroke="#949494" stroke-width="0.75"/>
<line x1="588.7" y1="805" x2="588.7" y2="829.9" stroke="#949494" stroke-width="0.75"/>
<text transform="translate(587.3 817.3) rotate(-90) translate(0 0.7)" font-family="Liberation Serif" font-size="9" fill="#707070" text-anchor="middle" textLength="23" lengthAdjust="spacingAndGlyphs">ø19G7</text>
<line x1="66" y1="815.6" x2="184" y2="815.6" stroke="#7c7c7c" stroke-width="0.8" stroke-dasharray="14 3 3 3"/>
<line x1="125" y1="757" x2="125" y2="873" stroke="#7c7c7c" stroke-width="0.8" stroke-dasharray="14 3 3 3"/>
<path d="M83.4 765.4L166.4 765.4L175.4 774.4L175.4 857L166.4 866L83.4 866L74.4 857L74.4 774.4Z" stroke="#383838" stroke-width="1.4" fill="none" stroke-linejoin="round" />
<line x1="80" y1="770.8" x2="90" y2="780.8" stroke="#949494" stroke-width="0.62"/>
<line x1="80" y1="780.8" x2="90" y2="770.8" stroke="#949494" stroke-width="0.62"/>
<circle cx="85" cy="775.8" r="2.8" stroke="#383838" stroke-width="1.33" fill="#fff"/>
<line x1="160" y1="770.8" x2="170" y2="780.8" stroke="#949494" stroke-width="0.62"/>
<line x1="160" y1="780.8" x2="170" y2="770.8" stroke="#949494" stroke-width="0.62"/>
<circle cx="165" cy="775.8" r="2.8" stroke="#383838" stroke-width="1.33" fill="#fff"/>
<line x1="80" y1="850.4" x2="90" y2="860.4" stroke="#949494" stroke-width="0.62"/>
<line x1="80" y1="860.4" x2="90" y2="850.4" stroke="#949494" stroke-width="0.62"/>
<circle cx="85" cy="855.4" r="2.8" stroke="#383838" stroke-width="1.33" fill="#fff"/>
<line x1="160" y1="850.4" x2="170" y2="860.4" stroke="#949494" stroke-width="0.62"/>
<line x1="160" y1="860.4" x2="170" y2="850.4" stroke="#949494" stroke-width="0.62"/>
<circle cx="165" cy="855.4" r="2.8" stroke="#383838" stroke-width="1.33" fill="#fff"/>
<path d="M160.68 789.68A44.1 44.1 0 1 1 149.66 779.04" stroke="#383838" stroke-width="1.33" fill="none" stroke-linejoin="round" />
<circle cx="125" cy="815.6" r="35.4" stroke="#383838" stroke-width="1.33" fill="none"/>
<path d="M116.9 843.45A29 29 0 1 1 146.7 834.84" stroke="#383838" stroke-width="1.33" fill="none" stroke-linejoin="round" />
<line x1="116.9" y1="843.45" x2="146.7" y2="834.84" stroke="#383838" stroke-width="0.91"/>
<path d="M102.2 798v-3a2.2 1.9 0 0 1 4.2 -1.2l-3.6 1.4" stroke="#383838" stroke-width="1.33" fill="none" stroke-linejoin="round" />
<circle cx="125" cy="815.6" r="14.5" stroke="#383838" stroke-width="2.17" fill="none"/>
<line x1="125" y1="788" x2="125" y2="801.5" stroke="#383838" stroke-width="1.96"/>
<line x1="125" y1="830" x2="125" y2="836" stroke="#383838" stroke-width="1.96"/>
<circle cx="164.19" cy="834.71" r="6.3" stroke="#383838" stroke-width="1.33" fill="#fff"/>
<circle cx="164.19" cy="834.71" r="3.4" stroke="#383838" stroke-width="1.33" fill="none"/>
<circle cx="144.11" cy="854.79" r="6.3" stroke="#383838" stroke-width="1.33" fill="#fff"/>
<circle cx="144.11" cy="854.79" r="3.4" stroke="#383838" stroke-width="1.33" fill="none"/>
<circle cx="85.81" cy="834.71" r="6.3" stroke="#383838" stroke-width="1.33" fill="#fff"/>
<circle cx="85.81" cy="834.71" r="3.4" stroke="#383838" stroke-width="1.33" fill="none"/>
<circle cx="85.81" cy="796.49" r="6.3" stroke="#383838" stroke-width="1.33" fill="#fff"/>
<circle cx="85.81" cy="796.49" r="3.4" stroke="#383838" stroke-width="1.33" fill="none"/>
<circle cx="105.89" cy="776.41" r="6.3" stroke="#383838" stroke-width="1.33" fill="#fff"/>
<circle cx="105.89" cy="776.41" r="3.4" stroke="#383838" stroke-width="1.33" fill="none"/>
<circle cx="164.19" cy="796.49" r="6.3" stroke="#383838" stroke-width="1.33" fill="#fff"/>
<circle cx="164.19" cy="796.49" r="3.4" stroke="#383838" stroke-width="1.33" fill="none"/>
<line x1="74.4" y1="751.4" x2="74.4" y2="765.4" stroke="#949494" stroke-width="0.75"/>
<line x1="175.4" y1="751.4" x2="175.4" y2="765.4" stroke="#949494" stroke-width="0.75"/>
<line x1="74.4" y1="753" x2="175.4" y2="753" stroke="#949494" stroke-width="0.75"/>
<path d="M74.4 753L78.9 752.1L78.9 753.9Z" fill="#555"/>
<path d="M175.4 753L170.9 753.9L170.9 752.1Z" fill="#555"/>
<text transform="translate(124.5 751.7) translate(0 0.7) scale(0.93 1)" font-family="Liberation Serif" font-size="12.4" fill="#707070" text-anchor="middle">80</text>
<line x1="51" y1="765.4" x2="83.4" y2="765.4" stroke="#949494" stroke-width="0.75"/>
<line x1="51" y1="866" x2="83.4" y2="866" stroke="#949494" stroke-width="0.75"/>
<line x1="52.6" y1="765.4" x2="52.6" y2="866" stroke="#949494" stroke-width="0.75"/>
<path d="M52.6 765.4L53.5 769.9L51.7 769.9Z" fill="#555"/>
<path d="M52.6 866L51.7 861.5L53.5 861.5Z" fill="#555"/>
<text transform="translate(50.4 815.7) rotate(-90) translate(0 0.7) scale(0.93 1)" font-family="Liberation Serif" font-size="12.4" fill="#707070" text-anchor="middle">80</text>
<line x1="139" y1="801.2" x2="169.5" y2="780.6" stroke="#949494" stroke-width="0.75"/>
<path d="M169.5 780.6L166.27 783.86L165.27 782.37Z" fill="#555"/>
<text transform="translate(147.4 795.4) rotate(-36) translate(0 0.7) scale(0.93 1)" font-family="Liberation Serif" font-size="10.8" fill="#707070" text-anchor="middle">ø96</text>
<line x1="161" y1="858" x2="161" y2="878.5" stroke="#949494" stroke-width="0.75"/>
<line x1="168" y1="858" x2="168" y2="878.5" stroke="#949494" stroke-width="0.75"/>
<line x1="110" y1="877.4" x2="177.5" y2="877.4" stroke="#949494" stroke-width="0.75"/>
<path d="M161 877.4L156.5 878.3L156.5 876.5Z" fill="#555"/>
<path d="M168 877.4L172.5 876.5L172.5 878.3Z" fill="#555"/>
<text transform="translate(131 876.2) translate(0 0.7) scale(0.93 1)" font-family="Liberation Serif" font-size="12.4" fill="#707070" text-anchor="middle">4-M5*15</text>
<line x1="249" y1="1131.5" x2="305.6" y2="1131.5" stroke="#7c7c7c" stroke-width="0.7" stroke-dasharray="9 2.5 2.5 2.5"/>
<line x1="277.4" y1="1104" x2="277.4" y2="1158" stroke="#7c7c7c" stroke-width="0.7" stroke-dasharray="9 2.5 2.5 2.5"/>
<circle cx="277.4" cy="1131.5" r="20.3" stroke="#383838" stroke-width="1.4" fill="none"/>
<line x1="257.1" y1="1131.5" x2="257.1" y2="1172.3" stroke="#949494" stroke-width="0.75"/>
<line x1="297.7" y1="1131.5" x2="297.7" y2="1172.3" stroke="#949494" stroke-width="0.75"/>
<line x1="257.1" y1="1171.1" x2="297.7" y2="1171.1" stroke="#949494" stroke-width="0.75"/>
<path d="M257.1 1171.1L261.6 1170.2L261.6 1172Z" fill="#555"/>
<path d="M297.7 1171.1L293.2 1172L293.2 1170.2Z" fill="#555"/>
<text transform="translate(277.7 1169.8) translate(0 0.7) scale(0.93 1)" font-family="Liberation Serif" font-size="12.4" fill="#707070" text-anchor="middle">ø32h6</text>
<line x1="349" y1="1131.5" x2="405.6" y2="1131.5" stroke="#7c7c7c" stroke-width="0.7" stroke-dasharray="9 2.5 2.5 2.5"/>
<line x1="376.7" y1="1103" x2="376.7" y2="1158" stroke="#7c7c7c" stroke-width="0.7" stroke-dasharray="9 2.5 2.5 2.5"/>
<circle cx="376.7" cy="1131.5" r="20.1" stroke="#383838" stroke-width="1.4" fill="none"/>
<path d="M371.6 1112V1105.6H382.9V1112" stroke="#383838" stroke-width="1.4" fill="none" stroke-linejoin="round" />
<circle cx="376.7" cy="1131.5" r="6.4" stroke="#383838" stroke-width="1.75" fill="none"/>
<line x1="356.6" y1="1131.5" x2="356.6" y2="1172.3" stroke="#949494" stroke-width="0.75"/>
<line x1="396.8" y1="1131.5" x2="396.8" y2="1172.3" stroke="#949494" stroke-width="0.75"/>
<line x1="356.6" y1="1171.1" x2="396.8" y2="1171.1" stroke="#949494" stroke-width="0.75"/>
<path d="M356.6 1171.1L361.1 1170.2L361.1 1172Z" fill="#555"/>
<path d="M396.8 1171.1L392.3 1172L392.3 1170.2Z" fill="#555"/>
<text transform="translate(377.5 1169.8) translate(0 0.7) scale(0.93 1)" font-family="Liberation Serif" font-size="12.4" fill="#707070" text-anchor="middle">ø32h6</text>
<line x1="365.2" y1="1143.7" x2="400" y2="1111.1" stroke="#949494" stroke-width="0.75"/>
<line x1="400" y1="1111.1" x2="417" y2="1111.1" stroke="#949494" stroke-width="0.75"/>
<path d="M381.38 1127.14L384.06 1123.41L385.29 1124.72Z" fill="#555"/>
<path d="M372.02 1135.86L369.34 1139.59L368.11 1138.28Z" fill="#555"/>
<text transform="translate(408.5 1110) translate(0 0.7) scale(0.93 1)" font-family="Liberation Serif" font-size="10.5" fill="#707070" text-anchor="middle">M12</text>
<line x1="338.4" y1="1096.7" x2="385.8" y2="1096.7" stroke="#949494" stroke-width="0.75"/>
<path d="M371.6 1096.7L367.1 1097.6L367.1 1095.8Z" fill="#555"/>
<path d="M382.9 1096.7L387.4 1095.8L387.4 1097.6Z" fill="#555"/>
<line x1="371.6" y1="1095.4" x2="371.6" y2="1105.6" stroke="#949494" stroke-width="0.75"/>
<line x1="382.9" y1="1095.4" x2="382.9" y2="1105.6" stroke="#949494" stroke-width="0.75"/>
<text transform="translate(350.5 1095.6) translate(0 0.7)" font-family="Liberation Serif" font-size="10.8" fill="#707070" text-anchor="middle" textLength="23" lengthAdjust="spacingAndGlyphs">10h9</text>
<line x1="344.4" y1="1106" x2="372" y2="1106" stroke="#949494" stroke-width="0.75"/>
<line x1="344.4" y1="1151.8" x2="376.7" y2="1151.8" stroke="#949494" stroke-width="0.75"/>
<line x1="346.2" y1="1106" x2="346.2" y2="1151.8" stroke="#949494" stroke-width="0.75"/>
<path d="M346.2 1106L347.1 1110.5L345.3 1110.5Z" fill="#555"/>
<path d="M346.2 1151.8L345.3 1147.3L347.1 1147.3Z" fill="#555"/>
<text transform="translate(344.4 1129) rotate(-90) translate(0 0.7) scale(0.93 1)" font-family="Liberation Serif" font-size="12.4" fill="#707070" text-anchor="middle">35</text>
<text x="244.6" y="1202.8" font-family="'Liberation Serif','Noto Serif CJK SC',serif" font-size="14.6" fill="#707070" textLength="46.2" lengthAdjust="spacing">轴型式</text>
<text x="341.5" y="1202.8" font-family="'Liberation Serif','Noto Serif CJK SC',serif" font-size="14.6" fill="#707070" textLength="46.2" lengthAdjust="spacing">轴型式</text>
<text transform="translate(300.5 1203.6) translate(0 0.7) scale(0.92 1)" font-family="Liberation Serif" font-size="16.5" fill="#666" text-anchor="start">S1</text>
<text transform="translate(399.5 1203.6) translate(0 0.7) scale(0.92 1)" font-family="Liberation Serif" font-size="16.5" fill="#666" text-anchor="start">S2</text>
</svg>
</body></html>
